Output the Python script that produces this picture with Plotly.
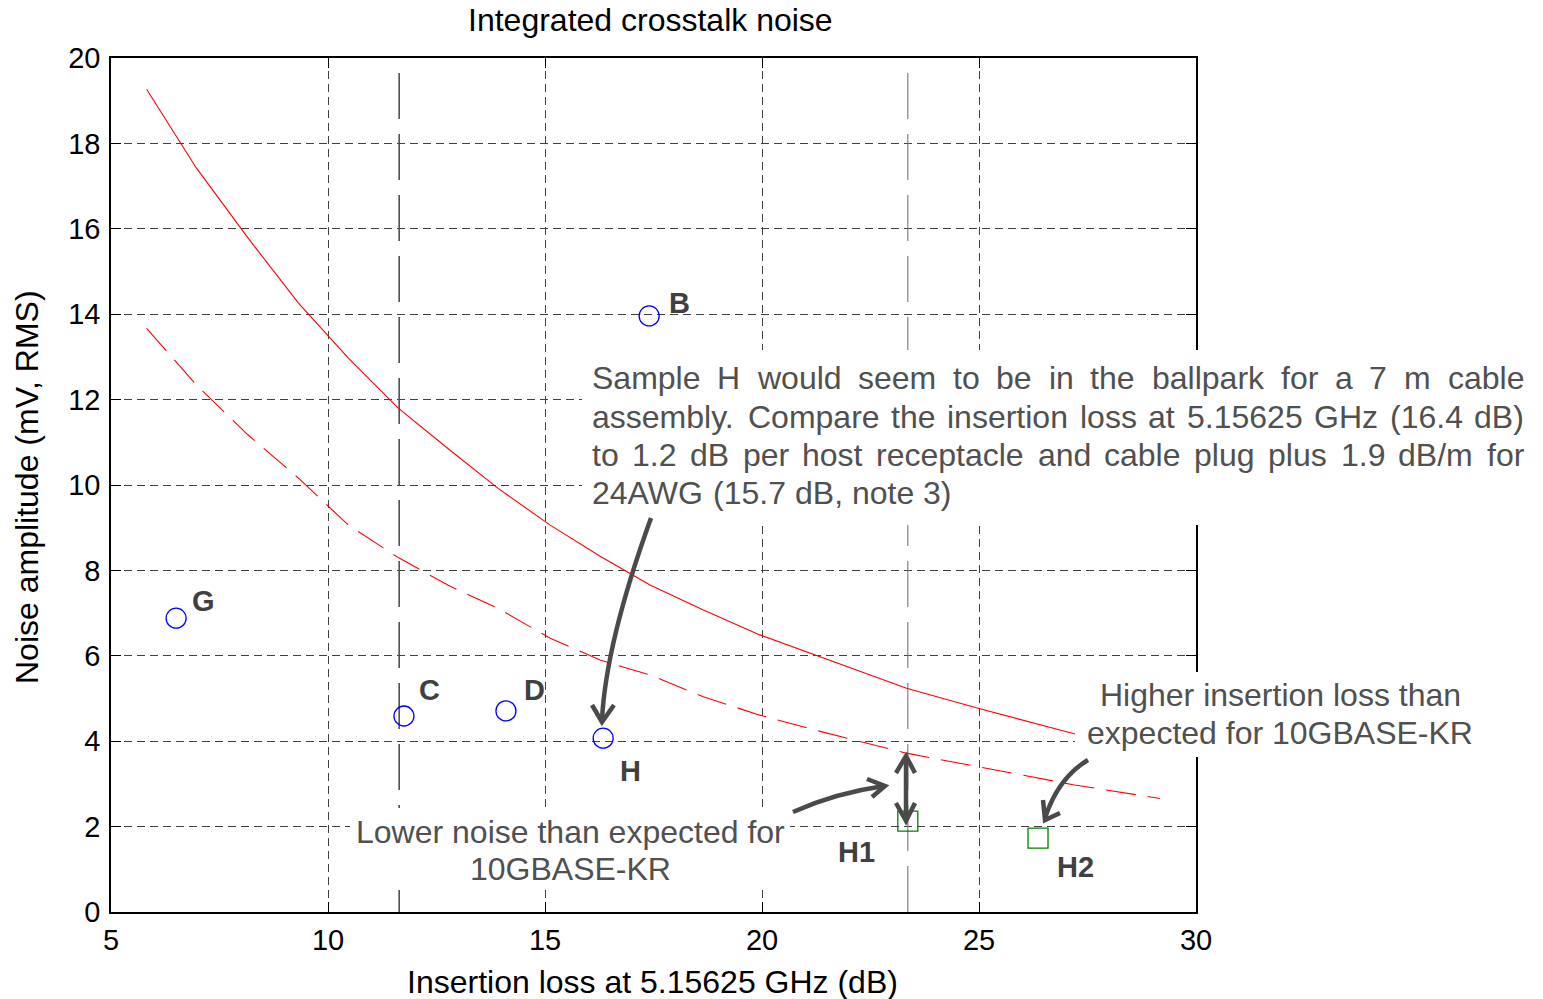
import plotly.graph_objects as go

# ---------------- data ----------------
curve_x = [5.82, 6.97, 8.16, 9.32, 10.47, 11.62, 12.77, 13.92, 15.12, 16.27,
           17.42, 18.65, 19.95, 21.34, 23.33, 24.98, 27.17, 29.17]
solid_y = [19.27, 17.42, 15.78, 14.26, 12.97, 11.80, 10.85, 9.92, 9.06, 8.33,
           7.66, 7.07, 6.49, 5.98, 5.24, 4.77, 4.18, 3.78]
dashed_y = [13.67, 12.34, 11.17, 10.16, 9.06, 8.30, 7.65, 7.11, 6.41, 5.90,
            5.55, 5.04, 4.61, 4.23, 3.72, 3.40, 2.98, 2.66]

circle_names = ["G", "C", "D", "H", "B"]
circle_x = [6.50, 11.75, 14.10, 16.34, 17.40]
circle_y = [6.88, 4.59, 4.71, 4.07, 13.96]

square_names = ["H1", "H2"]
square_x = [23.36, 26.36]
square_y = [2.13, 1.73]

ref_x = [11.64, 23.36]

x_ticks = [5, 10, 15, 20, 25, 30]
y_ticks = [0, 2, 4, 6, 8, 10, 12, 14, 16, 18, 20]

note_lines = [
    "Sample H would seem to be in the ballpark for a 7 m cable",
    "assembly. Compare the insertion loss at 5.15625 GHz (16.4 dB)",
    "to 1.2 dB per host receptacle and cable plug plus 1.9 dB/m for",
    "24AWG (15.7 dB, note 3)",
]

# ---------------- layout geometry (pixels) ----------------
W, H = 1543, 999
L, R, T, B = 111, 1196, 58, 912


def px(p):
    return (p - L) / (R - L)


def py(p):
    return (B - p) / (B - T)


def pt(x, y):
    return f"{px(x):.5f},{py(y):.5f}"


# Arial / Liberation Sans advance widths (1/1000 em)
AW = {' ': 278, '(': 333, ')': 333, ',': 278, '-': 333, '.': 278, '/': 278,
      'A': 667, 'B': 667, 'C': 722, 'D': 722, 'E': 667, 'F': 611, 'G': 778,
      'H': 722, 'I': 278, 'K': 667, 'L': 556, 'M': 833, 'N': 722, 'R': 722,
      'S': 667, 'W': 944, 'z': 500}
for c in "0123456789":
    AW[c] = 556
AW.update({'a': 556, 'b': 556, 'c': 500, 'd': 556, 'e': 556, 'f': 278,
           'g': 556, 'h': 556, 'i': 222, 'j': 222, 'k': 500, 'l': 222,
           'm': 833, 'n': 556, 'o': 556, 'p': 556, 'q': 556, 'r': 333,
           's': 500, 't': 278, 'u': 556, 'v': 500, 'w': 722, 'x': 500,
           'y': 500})


def tw(s, size):
    return sum(AW.get(c, 556) for c in s) / 1000 * size


FONT = "Liberation Sans, Arial"
fig = go.Figure()

# reference vertical lines
fig.add_trace(go.Scatter(x=[ref_x[0], ref_x[0]], y=[0, 20], mode="lines",
                         line=dict(color="#505050", width=1.6, dash="46px,15px"),
                         hoverinfo="skip", showlegend=False))
fig.add_trace(go.Scatter(x=[ref_x[1], ref_x[1]], y=[0, 20], mode="lines",
                         line=dict(color="#777777", width=1.1, dash="46px,15px"),
                         hoverinfo="skip", showlegend=False))

# curves
fig.add_trace(go.Scatter(x=curve_x, y=solid_y, mode="lines",
                         line=dict(color="#ff0000", width=1.1),
                         showlegend=False))
fig.add_trace(go.Scatter(x=curve_x, y=dashed_y, mode="lines",
                         line=dict(color="#ff0000", width=1.1, dash="30px,12px"),
                         showlegend=False))

# samples
fig.add_trace(go.Scatter(x=circle_x, y=circle_y, mode="markers",
                         marker=dict(symbol="circle-open", size=20, color="#0000ff",
                                     line=dict(color="#0000ff", width=1.3)),
                         text=circle_names, showlegend=False))
fig.add_trace(go.Scatter(x=square_x, y=square_y, mode="markers",
                         marker=dict(symbol="square-open", size=20, color="#008000",
                                     line=dict(color="#008000", width=1.3)),
                         text=square_names, showlegend=False))

shapes = []
# white text boxes
for (x0, y0, x1, y1) in [(582, 350, 1532, 525), (350, 808, 790, 890),
                         (1075, 672, 1482, 757)]:
    shapes.append(dict(type="rect", xref="paper", yref="paper",
                       x0=px(x0), x1=px(x1), y0=py(y1), y1=py(y0),
                       fillcolor="white", line=dict(width=0), layer="above"))

arrow_col = "#4a4a4a"
paths = [
    f"M {pt(651,518)} C {pt(625,590)} {pt(605,660)} {pt(602,720)}",
    f"M {pt(592,705)} L {pt(602,722)} L {pt(614,705)}",
    f"M {pt(793,812)} Q {pt(835,793)} {pt(884,786)}",
    f"M {pt(867,779)} L {pt(885,786)} L {pt(872,797)}",
    f"M {pt(906,757)} L {pt(906,820)}",
    f"M {pt(896,773)} L {pt(906,756)} L {pt(915,773)}",
    f"M {pt(896,803)} L {pt(906,821)} L {pt(915,803)}",
    f"M {pt(1088,760)} Q {pt(1058,778)} {pt(1045,818)}",
    f"M {pt(1043,800)} L {pt(1045,820)} L {pt(1060,813)}",
]
for p in paths:
    shapes.append(dict(type="path", xref="paper", yref="paper", path=p,
                       line=dict(color=arrow_col, width=4.5), layer="above"))

annotations = []
txt_col = "#505050"
FS = 32
# justified note block
left_px, right_px = 592, 1524
line_y = [378, 417, 455, 493]
for i, line in enumerate(note_lines):
    words = line.split(" ")
    if i < len(note_lines) - 1:
        total = sum(tw(w, FS) for w in words)
        gap = (right_px - left_px - total) / (len(words) - 1)
    else:
        gap = tw(" ", FS)
    xc = left_px
    for w in words:
        annotations.append(dict(text=w, xref="paper", yref="paper",
                                x=px(xc), y=py(line_y[i]), xanchor="left",
                                yanchor="middle", showarrow=False,
                                borderpad=0, borderwidth=0,
                                font=dict(family=FONT, size=FS, color=txt_col)))
        xc += tw(w, FS) + gap


def center_text(t, x, y, size=FS, color=txt_col, bold=False):
    annotations.append(dict(text=f"<b>{t}</b>" if bold else t, xref="paper",
                            yref="paper", x=px(x), y=py(y), xanchor="center",
                            yanchor="middle", showarrow=False, borderpad=0,
                            font=dict(family=FONT, size=size, color=color)))


center_text("Lower noise than expected for", 570, 832)
center_text("10GBASE-KR", 570, 869)
center_text("Higher insertion loss than", 1280, 695)
center_text("expected for 10GBASE-KR", 1280, 733)

# sample labels
label_pos = {"B": (679, 303), "G": (203, 601), "C": (429, 690), "D": (534, 690),
             "H": (630, 771), "H1": (856, 852), "H2": (1075, 867)}
for k, (lx, ly) in label_pos.items():
    center_text(k, lx, ly, size=29, color="#404040", bold=True)

# titles
center_text("Integrated crosstalk noise", 650, 20, size=32, color="black")
center_text("Insertion loss at 5.15625 GHz (dB)", 652, 982, size=32, color="black")
annotations.append(dict(text="Noise amplitude (mV, RMS)", xref="paper", yref="paper",
                        x=px(27), y=py(487), xanchor="center", yanchor="middle",
                        textangle=-90, showarrow=False,
                        font=dict(family=FONT, size=32, color="black")))

axis_common = dict(showline=True, linecolor="black", linewidth=1.5, mirror="ticks",
                   ticks="inside", ticklen=10, tickcolor="black", tickwidth=1.2,
                   showgrid=True, gridcolor="#404040", gridwidth=1,
                   griddash="8px,5px", zeroline=False,
                   tickfont=dict(family=FONT, size=29, color="black"))

fig.update_layout(
    width=W, height=H,
    margin=dict(l=L, r=W - R, t=T, b=H - B, autoexpand=False),
    paper_bgcolor="white", plot_bgcolor="white",
    xaxis=dict(range=[5, 30], tickvals=x_ticks, ticklabelstandoff=1, **axis_common),
    yaxis=dict(range=[0, 20], tickvals=y_ticks, ticklabelstandoff=3, **axis_common),
    shapes=shapes, annotations=annotations,
)

fig.write_html("out.html")
